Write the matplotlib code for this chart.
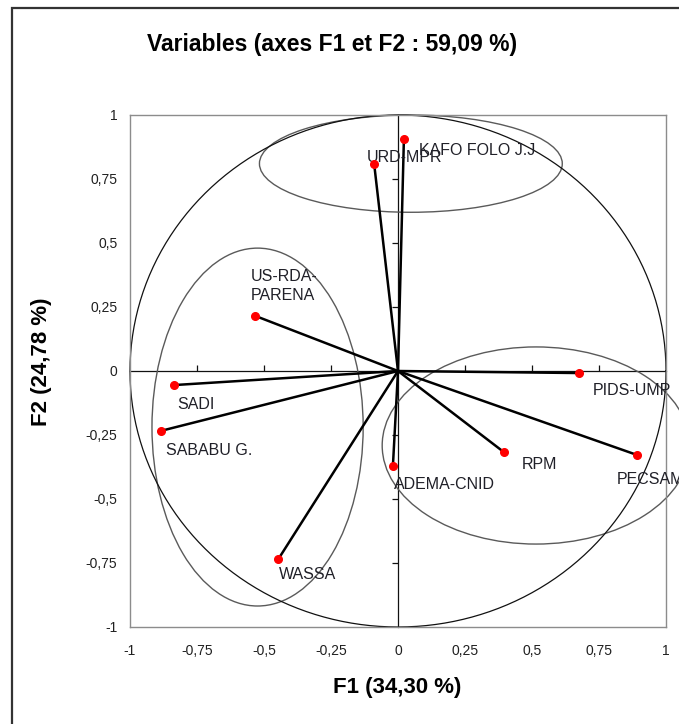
import numpy as np
import matplotlib
matplotlib.use("Agg")
import matplotlib.pyplot as plt
from matplotlib.patches import Ellipse, Rectangle
from matplotlib.ticker import FuncFormatter, FixedLocator

plt.rcParams['font.family'] = ['Liberation Sans', 'DejaVu Sans']

# ---- data ----
variables = ["KAFO FOLO J.J", "URD-MPR", "US-RDA-\nPARENA", "SADI", "SABABU G.",
             "WASSA", "ADEMA-CNID", "RPM", "PIDS-UMP", "PECSAM"]
f1 = [0.022, -0.089, -0.532, -0.836, -0.885, -0.446, -0.019, 0.394, 0.677, 0.892]
f2 = [0.906, 0.809, 0.215, -0.055, -0.234, -0.734, -0.371, -0.316, -0.008, -0.328]
tick_values = [-1, -0.75, -0.5, -0.25, 0, 0.25, 0.5, 0.75, 1]
title = "Variables (axes F1 et F2 : 59,09 %)"
xlabel = "F1 (34,30 %)"
ylabel = "F2 (24,78 %)"

# label offsets (pixels) relative to points, styling only
label_offsets = [(15, -11), (-7, 6), (-5, 13), (3, -19), (5, -20),
                 (0, -16), (1, -19), (18, -13), (13, -17), (-20, -25)]
label_va = ['center', 'center', 'bottom', 'center', 'center',
            'center', 'center', 'center', 'center', 'center']

# groups (hand-drawn ellipses): center x, center y, width, height
groups_cx = [0.048, -0.524, 0.515]
groups_cy = [0.810, -0.219, -0.291]
groups_w = [1.13, 0.788, 1.148]
groups_h = [0.38, 1.398, 0.77]

W, H = 679, 724
fig = plt.figure(figsize=(W / 100, H / 100), dpi=100)
fig.patch.set_facecolor('white')

# chart-area border
fig.patches.append(Rectangle((12 / W, -0.05), 1.2, 1 - 8 / H + 0.05,
                             transform=fig.transFigure, fill=False,
                             edgecolor='#333333', lw=1.6, zorder=0))

pos = [130 / W, 1 - 627 / H, 536 / W, 512 / H]

# zero-crossing axes (background)
axz = fig.add_axes(pos, zorder=0)
axz.set_xlim(-1, 1)
axz.set_ylim(-1, 1)
for s in ['top', 'right']:
    axz.spines[s].set_visible(False)
for s in ['left', 'bottom']:
    axz.spines[s].set_position(('data', 0))
    axz.spines[s].set_color('#111111')
    axz.spines[s].set_linewidth(0.9)
inner = [t for t in tick_values if t not in (-1, 0, 1)]
axz.xaxis.set_major_locator(FixedLocator(inner))
axz.yaxis.set_major_locator(FixedLocator(inner))
axz.tick_params(axis='x', direction='in', length=4, width=0.9, color='#111111',
                labelbottom=False)
axz.tick_params(axis='y', direction='out', length=4, width=0.9, color='#111111',
                labelleft=False)

# main axes
ax = fig.add_axes(pos, zorder=1)
ax.patch.set_visible(False)
ax.set_xlim(-1, 1)
ax.set_ylim(-1, 1)
for s in ax.spines.values():
    s.set_color('#8c8c8c')
    s.set_linewidth(1.0)
fmt = FuncFormatter(lambda v, p: ('%g' % v).replace('.', ','))
ax.xaxis.set_major_locator(FixedLocator(tick_values))
ax.yaxis.set_major_locator(FixedLocator(tick_values))
ax.xaxis.set_major_formatter(fmt)
ax.yaxis.set_major_formatter(fmt)
ax.tick_params(axis='x', length=0, pad=12, labelsize=10, labelcolor='#202020')
ax.tick_params(axis='y', length=0, pad=9, labelsize=10, labelcolor='#202020')

# unit circle
theta = np.linspace(0, 2 * np.pi, 361)
ax.plot(np.cos(theta), np.sin(theta), color='#111111', lw=0.9, clip_on=False)

# group ellipses
for cx, cy, w, h in zip(groups_cx, groups_cy, groups_w, groups_h):
    ax.add_patch(Ellipse((cx, cy), w, h, fill=False, edgecolor='#5a5a5a',
                         lw=1.0, clip_on=False))

# vectors
for x, y in zip(f1, f2):
    ax.plot([0, x], [0, y], color='black', lw=1.8, solid_capstyle='butt')
ax.plot(f1, f2, 'o', color='#ff0000', markersize=5.5, zorder=5, clip_on=False)

for name, x, y, off, va in zip(variables, f1, f2, label_offsets, label_va):
    ax.annotate(name, (x, y), xytext=off, textcoords='offset pixels',
                ha='left', va=va, fontsize=11.5, color='#202028',
                linespacing=1.3, annotation_clip=False)

fig.text(332 / W, 1 - 45 / H, title, ha='center', va='center',
         fontsize=16.5, fontweight='bold', color='black')
fig.text(397 / W, 1 - 688 / H, xlabel, ha='center', va='center',
         fontsize=16, fontweight='bold', color='black')
fig.text(42 / W, 1 - 362 / H, ylabel, ha='center', va='center', rotation=90,
         fontsize=16, fontweight='bold', color='black')

fig.savefig('out.png', dpi=100)
